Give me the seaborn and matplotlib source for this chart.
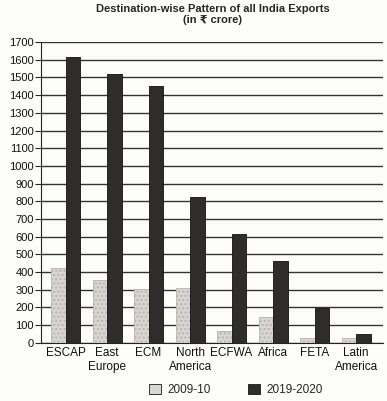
import numpy as np
import pandas as pd
import matplotlib
matplotlib.use("Agg")
import matplotlib.pyplot as plt
import seaborn as sns

# Destination-wise exports (in Rs crore)
regions = ["ESCAP", "East\nEurope", "ECM", "North\nAmerica", "ECFWA", "Africa", "FETA", "Latin\nAmerica"]
exports_2009 = [425, 355, 305, 310, 68, 145, 30, 28]
exports_2019 = [1615, 1520, 1450, 825, 615, 460, 195, 48]
years = ["2009-10", "2019-2020"]
y_ticks = list(range(0, 1800, 100))

df = pd.DataFrame({
    "region": regions * 2,
    "value": exports_2009 + exports_2019,
    "year": [years[0]] * len(regions) + [years[1]] * len(regions),
})

sns.set_style("white")
plt.rcParams["font.family"] = ["Liberation Sans", "DejaVu Sans"]

fig, ax = plt.subplots(figsize=(3.87, 4.01), dpi=100)
fig.patch.set_facecolor("#fdfdfb")
ax.set_facecolor("#fdfdfb")

sns.barplot(data=df, x="region", y="value", hue="year",
            palette=["#d9d5d1", "#2f2c2b"], width=0.7, gap=0.0,
            edgecolor="#1a1a1a", linewidth=0.6, ax=ax, zorder=3)

# speckled texture on the light bars
for bar in ax.containers[0]:
    bar.set_hatch("....")
    bar.set_edgecolor("#b8b3af")
for bar in ax.containers[1]:
    bar.set_edgecolor("#111111")

ax.set_ylim(0, 1700)
ax.set_yticks(y_ticks)
ax.set_xlim(-0.6, len(regions) - 0.35)
ax.yaxis.grid(True, color="#333333", linewidth=1.0, zorder=0)
ax.tick_params(axis="y", direction="out", length=4, width=0.8, left=True, labelsize=8,
               pad=1, labelcolor="#111111")
ax.tick_params(axis="x", length=0, labelsize=8.5, pad=3, labelcolor="#111111")
for spine in ["top", "right"]:
    ax.spines[spine].set_visible(False)
ax.spines["left"].set_color("#222222")
ax.spines["bottom"].set_color("#222222")
ax.set_xlabel("")
ax.set_ylabel("")

fig.suptitle("Destination-wise Pattern of all India Exports\n(in ₹ crore)",
             fontsize=8, fontweight="bold", x=0.55, y=0.99, linespacing=1.15)

ax.legend(loc="upper center", bbox_to_anchor=(0.57, -0.1), ncol=2, frameon=False,
          fontsize=8.5, handlelength=1.0, handleheight=1.0, columnspacing=3.2,
          handletextpad=0.5)

plt.subplots_adjust(left=0.105, right=0.99, top=0.895, bottom=0.145)
plt.savefig("out.png", dpi=100)
